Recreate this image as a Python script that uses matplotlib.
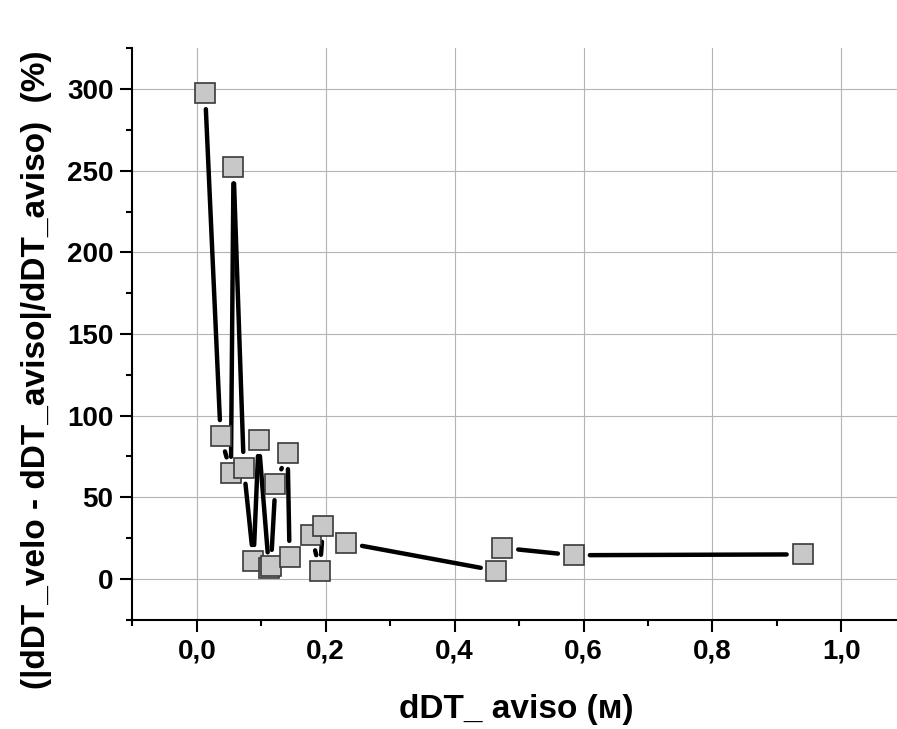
import numpy as np
import matplotlib
matplotlib.use('Agg')
import matplotlib.pyplot as plt
from matplotlib.collections import LineCollection
from matplotlib.ticker import MultipleLocator, FuncFormatter

plt.rcParams['font.family'] = ['Liberation Sans', 'DejaVu Sans']
plt.rcParams['font.weight'] = 'bold'

# data, in plot order
dDT_aviso = [0.013, 0.037, 0.053, 0.057, 0.073, 0.088, 0.096, 0.112, 0.115, 0.122,
             0.141, 0.144, 0.178, 0.191, 0.196, 0.232, 0.465, 0.474, 0.585, 0.940]
err_pct = [297.5, 87.5, 65, 252, 68, 11, 85, 6.5, 8, 58,
           77, 13.5, 27, 5, 32.5, 22, 5, 19, 14.5, 15]

x_ticks = [0.0, 0.2, 0.4, 0.6, 0.8, 1.0]
y_ticks = [0, 50, 100, 150, 200, 250, 300]

W, H = 897, 729
fig = plt.figure(figsize=(W / 100, H / 100), dpi=100)
ax = fig.add_axes([132.3 / W, 109.3 / H, (905.8 - 132.3) / W, (680.7 - 109.3) / H])
ax.set_xlim(-0.1, 1.1)
ax.set_ylim(-25, 325)

# connecting line with a gap round each symbol (like Origin does)
gap = 16
pts = ax.transData.transform(np.column_stack([dDT_aviso, err_pct]))
inv = ax.transData.inverted()
segs = []
for p0, p1 in zip(pts[:-1], pts[1:]):
    d = p1 - p0
    L = np.hypot(*d)
    if L > 2 * gap:
        u = d / L
        segs.append(inv.transform([p0 + u * gap, p1 - u * gap]))
ax.add_collection(LineCollection(segs, colors='black', linewidths=3.2,
                                 capstyle='round', zorder=3))

ax.plot(dDT_aviso, err_pct, ls='none', marker='s', ms=14.4,
        mfc='#c8c8c8', mec='#3a3a3a', mew=1.2, zorder=4, clip_on=False)

ax.set_xticks(x_ticks)
ax.set_yticks(y_ticks)
ax.xaxis.set_minor_locator(MultipleLocator(0.1))
ax.yaxis.set_minor_locator(MultipleLocator(25))
ax.xaxis.set_major_formatter(FuncFormatter(lambda v, p: f"{v:.1f}".replace('.', ',')))
ax.grid(True, which='major', color='#b4b4b4', lw=0.8, zorder=1)

for s in ['top', 'right']:
    ax.spines[s].set_visible(False)
for s in ['left', 'bottom']:
    ax.spines[s].set_linewidth(1.5)

ax.tick_params(which='major', direction='out', length=8.5, width=1.5, labelsize=20, pad=5)
ax.tick_params(which='minor', direction='out', length=4.3, width=1.5)
for lab in ax.get_xticklabels() + ax.get_yticklabels():
    lab.set_fontweight('bold')

ax.set_xlabel('dDT_ aviso (м)', fontsize=24, fontweight='bold')
ax.set_ylabel('(|dDT_velo - dDT_aviso|/dDT_aviso)  (%)', fontsize=24, fontweight='bold')
ax.xaxis.set_label_coords(0.497, -0.13)
ax.yaxis.set_label_coords(-0.104, 0.437)

fig.savefig('out.png', dpi=100)
